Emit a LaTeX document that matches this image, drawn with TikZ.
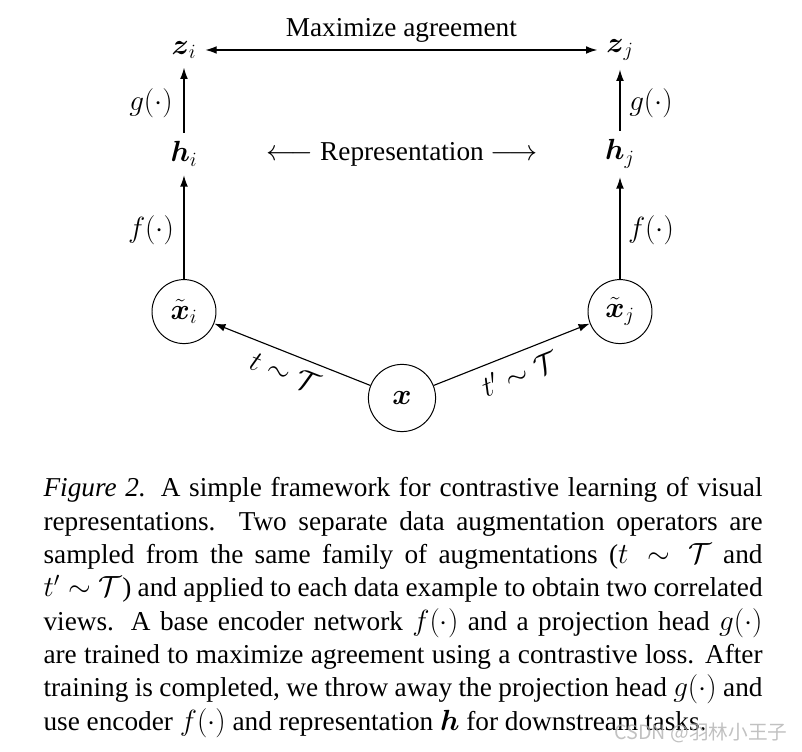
\documentclass[tikz,border=0pt]{standalone}
\usepackage{amsmath, amssymb}
\usepackage{fontspec}
\setmainfont{Liberation Serif}
\newfontfamily\cjkfont{Noto Sans CJK SC}
\usetikzlibrary{arrows.meta}

\begin{document}
\begin{tikzpicture}[>={Latex[length=8pt, width=5.5pt]}, line width=0.8pt,
    every node/.style={font=\fontsize{19.4}{23}\selectfont},
    view/.style={draw, circle, line width=0.7pt, minimum size=1.6cm, inner sep=0pt},
    vec/.style={inner sep=6pt}]
    \useasboundingbox (-10.05,-8.85) rectangle (10.0,9.95);

    % --- Input x and its two augmented views ---
    \node[view, minimum size=1.68cm] (x) at (0,0) {$\boldsymbol{x}$};
    \node[view] (xt_i) at (-5.45,2.16) {$\tilde{\boldsymbol{x}}_i$};
    \node[view] (xt_j) at (5.45,2.16) {$\tilde{\boldsymbol{x}}_j$};

    % --- Representations h ---
    \node[vec] (h_i) at (-5.45,6.1) {$\boldsymbol{h}_i$};
    \node[vec] (h_j) at (5.45,6.1) {$\boldsymbol{h}_j$};
    \node (rep) at (0,6.1) {$\longleftarrow$ Representation $\longrightarrow$};

    % --- Projections z ---
    \node[vec] (z_i) at (-5.45,8.7) {$\boldsymbol{z}_i$};
    \node[vec] (z_j) at (5.45,8.7) {$\boldsymbol{z}_j$};

    % --- Augmentations ---
    \draw[->] (x) -- node[sloped, below, inner sep=6pt] {$t\sim\mathcal{T}$} (xt_i);
    \draw[->] (x) -- node[sloped, below, inner sep=6pt] {$t'\sim\mathcal{T}$} (xt_j);

    % --- Encoder f and head g ---
    \draw[->] (xt_i) -- (h_i);
    \draw[->] (xt_j) -- (h_j);
    \draw[->] (h_i) -- (z_i);
    \draw[->] (h_j) -- (z_j);
    \node (f_i) at (-6.275,4.2) {$f(\cdot)$};
    \node (f_j) at (6.225,4.2) {$f(\cdot)$};
    \node (g_i) at (-6.275,7.375) {$g(\cdot)$};
    \node (g_j) at (6.225,7.375) {$g(\cdot)$};

    % --- Agreement ---
    \draw[<->] (z_i) -- node[above=2pt] {Maximize agreement} (z_j);

    % --- Caption ---
    \node[anchor=base west, inner sep=0pt, text width=17.975cm, align=justify,
          font=\fontsize{19.4}{23.7}\selectfont] (caption) at (-8.975,-2.475)
      {\textit{Figure 2.} A simple framework for contrastive learning of visual\linebreak
       representations.  Two separate data augmentation operators are\linebreak
       sampled from the same family of augmentations ($t\sim\mathcal{T}$ and\linebreak
       $t'\sim\mathcal{T}$) and applied to each data example to obtain two correlated\linebreak
       views.  A base encoder network $f(\cdot)$ and a projection head $g(\cdot)$\linebreak
       are trained to maximize agreement using a contrastive loss. After\linebreak
       training is completed, we throw away the projection head $g(\cdot)$ and\linebreak
       use encoder $f(\cdot)$ and representation $\boldsymbol{h}$ for downstream tasks.};

    % --- Watermark ---
    \node[text=gray!60, opacity=0.8, font=\cjkfont\fontsize{14}{14}\selectfont] (mark) at (7.475,-8.375) {CSDN @羽林小王子};
\end{tikzpicture}
\end{document}
